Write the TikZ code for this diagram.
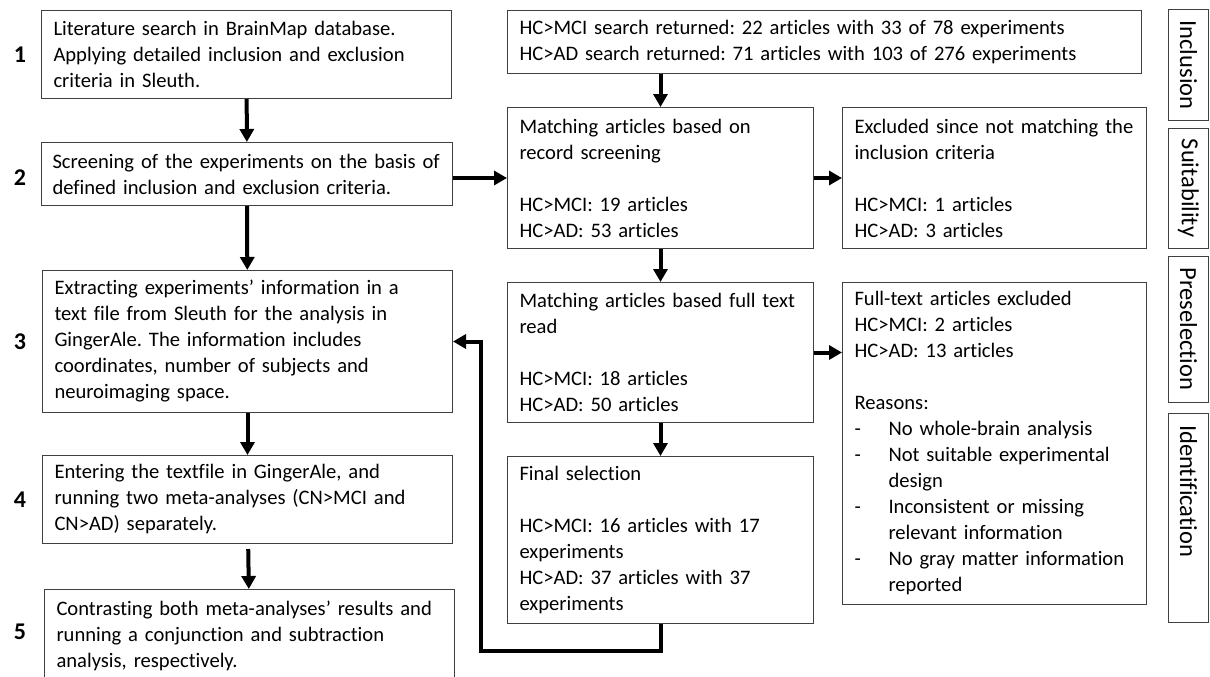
\documentclass[tikz,border=0pt]{standalone}
\usepackage{fontspec}
\setmainfont{Carlito}[Ligatures=NoCommon]
\usepackage{tikz}
\usetikzlibrary{positioning, arrows.meta, calc}
\frenchspacing

\newcommand{\rsn}{\makebox[34pt][l]{-}}
\newcommand{\rsncont}{\hspace*{34pt}}

\begin{document}
\begin{tikzpicture}[x=1pt, y=-1pt,
    every node/.style={font=\fontsize{20.6}{26}\selectfont},
    box/.style={draw=black!75, line width=1pt, rectangle, align=left, anchor=north west, inner xsep=12pt, inner ysep=0pt},
    side/.style={draw=black!75, line width=1pt, rectangle, rotate=-90, minimum height=40pt, inner sep=0pt, font=\fontsize{24.5}{28}\selectfont},
    num/.style={font=\fontsize{24}{28}\selectfont\bfseries},
    arr/.style={line width=4pt, -{Triangle[length=13pt, width=14pt]}}]
      \useasboundingbox (0,0) rectangle (1210,677);

      % Left column: steps
      \node[box, text width=386pt, minimum height=88pt] (b1) at (41,10) {Literature search in BrainMap database.\\Applying detailed inclusion and exclusion\\criteria in Sleuth.};
      \node[box, inner xsep=10pt, text width=391pt, minimum height=63pt] (b2) at (41,142) {\hspace*{1pt}Screening of the experiments on the basis of\\\hspace*{1pt}defined inclusion and exclusion criteria.};
      \node[box, text width=386pt, minimum height=142pt] (b3) at (42,270) {Extracting experiments’ information in a\\text file from Sleuth for the analysis in\\GingerAle. The information includes\\coordinates, number of subjects and\\neuroimaging space.};
      \node[box, text width=386pt, minimum height=88pt] (b4) at (42,455) {Entering the textfile in GingerAle, and\\running two meta-analyses (CN>MCI and\\CN>AD) separately.};
      \node[box, text width=386pt, minimum height=92pt] (b5) at (44,589) {Contrasting both meta-analyses’ results and\\running a conjunction and subtraction\\analysis, respectively.};

      % Step numbers
      \node[num] (n1) at (20,0 |- b1) {1};
      \node[num] (n2) at (20,178) {2};
      \node[num] (n3) at (20,0 |- b3) {3};
      \node[num] (n4) at (20,0 |- b4) {4};
      \node[num] (n5) at (20,632) {5};

      % Middle column: articles
      \node[box, text width=610pt, minimum height=63pt] (search) at (507,10) {HC>MCI search returned: 22 articles with 33 of 78 experiments\\HC>AD search returned: 71 articles with 103 of 276 experiments};
      \node[box, text width=282pt, minimum height=141pt] (match1) at (507,107) {Matching articles based on\\record screening\\[26pt]HC>MCI: 19 articles\\HC>AD: 53 articles};
      \node[box, text width=282pt, minimum height=140pt] (match2) at (507,282) {Matching articles based full text\\read\\[26pt]HC>MCI: 18 articles\\HC>AD: 50 articles};
      \node[box, text width=282pt, minimum height=167pt] (final) at (507,456) {Final selection\\[26pt]HC>MCI: 16 articles with 17\\experiments\\HC>AD: 37 articles with 37\\experiments};

      % Right column: exclusions
      \node[box, text width=280pt, minimum height=141pt] (excl) at (842,107) {Excluded since not matching the\\inclusion criteria\\[26pt]HC>MCI: 1 articles\\HC>AD: 3 articles};
      \node[box, text width=280pt, minimum height=322pt] (fulltext) at (842,282) {Full-text articles excluded\\HC>MCI: 2 articles\\HC>AD: 13 articles\\[26pt]Reasons:\\\rsn No whole-brain analysis\\\rsn Not suitable experimental\\\rsncont design\\\rsn Inconsistent or missing\\\rsncont relevant information\\\rsn No gray matter information\\\rsncont reported};

      % Phase labels
      \node[side, minimum width=110pt] (incl) at (1188.5,65) {Inclusion};
      \node[side, minimum width=120pt] (suit) at (1188.5,188) {Suitability};
      \node[side, minimum width=146pt] (presel) at (1188.5,329) {Preselection};
      \node[side, minimum width=209pt, text width=185pt, align=left, inner xsep=12pt] (ident) at (1188.5,517.5) {Identification};

      % Arrows
      \draw[arr] (b1) -- (b2);
      \draw[arr] (b2) -- (b3);
      \draw[arr] (b3) -- (b4);
      \draw[arr, shorten <=5pt] (b4) -- (b5);
      \draw[arr] (b2.east |- match1) -- (match1.west);
      \draw[arr] (search.south -| match1) -- (match1);
      \draw[arr] (match1) -- (match2);
      \draw[arr] (match2) -- (final);
      \draw[arr] (match1) -- (excl);
      \draw[arr] (match2) -- (fulltext.west |- match2);
      \draw[arr] (final.south) -- ++(0,27) -- ++(-180,0) |- (b3.east);
\end{tikzpicture}
\end{document}
